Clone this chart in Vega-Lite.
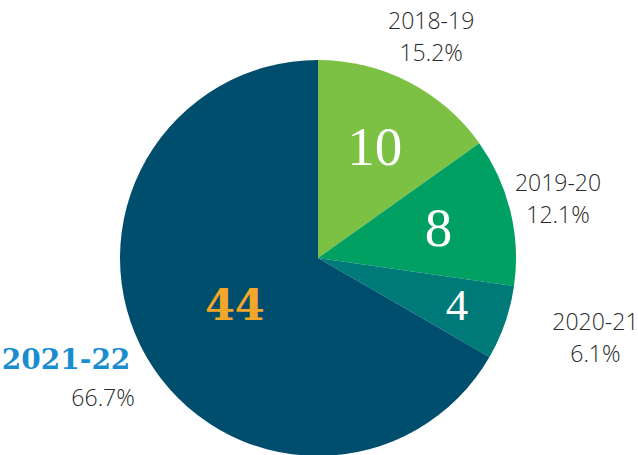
{
  "$schema": "https://vega.github.io/schema/vega-lite/v6.json",
  "width": 636,
  "height": 396,
  "autosize": {"type": "none"},
  "padding": {"left": 0, "top": 60, "right": 2, "bottom": 0},
  "background": "white",
  "config": {"view": {"stroke": null}},
  "data": {
    "values": [
      {"year": "2018-19", "count": 10, "pct": "15.2%"},
      {"year": "2019-20", "count": 8, "pct": "12.1%"},
      {"year": "2020-21", "count": 4, "pct": "6.1%"},
      {"year": "2021-22", "count": 44, "pct": "66.7%"}
    ]
  },
  "encoding": {
    "theta": {"field": "count", "type": "quantitative", "stack": true},
    "order": {"field": "year", "type": "ordinal", "sort": "ascending"}
  },
  "layer": [
    {
      "mark": {"type": "arc", "outerRadius": 198},
      "encoding": {
        "color": {
          "field": "year",
          "type": "nominal",
          "legend": null,
          "scale": {
            "domain": ["2018-19", "2019-20", "2020-21", "2021-22"],
            "range": ["#7cc144", "#00a063", "#007a78", "#004e6d"]
          }
        }
      }
    },
    {
      "mark": {"type": "text", "radius": 124, "font": "Liberation Serif", "fontSize": 55, "color": "white", "baseline": "middle", "align": "center"},
      "encoding": {"text": {"condition": {"test": "datum.year == '2018-19' || datum.year == '2019-20'", "field": "count", "type": "quantitative"}, "value": ""}}
    },
    {
      "mark": {"type": "text", "radius": 147, "font": "Liberation Serif", "fontSize": 45, "color": "white", "baseline": "middle", "align": "center"},
      "encoding": {"text": {"condition": {"test": "datum.year == '2020-21'", "field": "count", "type": "quantitative"}, "value": ""}}
    },
    {
      "mark": {"type": "text", "radius": 96, "dy": 1, "font": "DejaVu Serif", "fontWeight": "bold", "fontSize": 43, "color": "#f2a62a", "baseline": "middle", "align": "center"},
      "encoding": {"text": {"condition": {"test": "datum.year == '2021-22'", "field": "count", "type": "quantitative"}, "value": ""}}
    },
    {
      "mark": {"type": "text", "radius": 247, "dy": -16, "font": "Open Sans", "fontWeight": 300, "fontSize": 23, "color": "#2a2a2a", "baseline": "middle", "align": "center"},
      "encoding": {"text": {"condition": {"test": "datum.year == '2018-19' || datum.year == '2019-20'", "field": "year", "type": "nominal"}, "value": ""}}
    },
    {
      "mark": {"type": "text", "radius": 247, "dy": 16, "font": "Open Sans", "fontWeight": 300, "fontSize": 23, "color": "#2a2a2a", "baseline": "middle", "align": "center"},
      "encoding": {"text": {"condition": {"test": "datum.year == '2018-19' || datum.year == '2019-20'", "field": "pct", "type": "nominal"}, "value": ""}}
    },
    {
      "mark": {"type": "text", "radius": 247, "dx": 44, "dy": -16, "font": "Open Sans", "fontWeight": 300, "fontSize": 23, "color": "#2a2a2a", "baseline": "middle", "align": "center"},
      "encoding": {"text": {"condition": {"test": "datum.year == '2020-21'", "field": "year", "type": "nominal"}, "value": ""}}
    },
    {
      "mark": {"type": "text", "radius": 247, "dx": 44, "dy": 16, "font": "Open Sans", "fontWeight": 300, "fontSize": 23, "color": "#2a2a2a", "baseline": "middle", "align": "center"},
      "encoding": {"text": {"condition": {"test": "datum.year == '2020-21'", "field": "pct", "type": "nominal"}, "value": ""}}
    },
    {
      "mark": {"type": "text", "radius": 247, "dx": -38, "dy": -21, "font": "DejaVu Serif", "fontWeight": "bold", "fontSize": 28, "color": "#1b8dcf", "baseline": "middle", "align": "center"},
      "encoding": {"text": {"condition": {"test": "datum.year == '2021-22'", "field": "year", "type": "nominal"}, "value": ""}}
    },
    {
      "mark": {"type": "text", "radius": 247, "dx": -1, "dy": 17, "font": "Open Sans", "fontWeight": 300, "fontSize": 23, "color": "#2a2a2a", "baseline": "middle", "align": "center"},
      "encoding": {"text": {"condition": {"test": "datum.year == '2021-22'", "field": "pct", "type": "nominal"}, "value": ""}}
    }
  ]
}
